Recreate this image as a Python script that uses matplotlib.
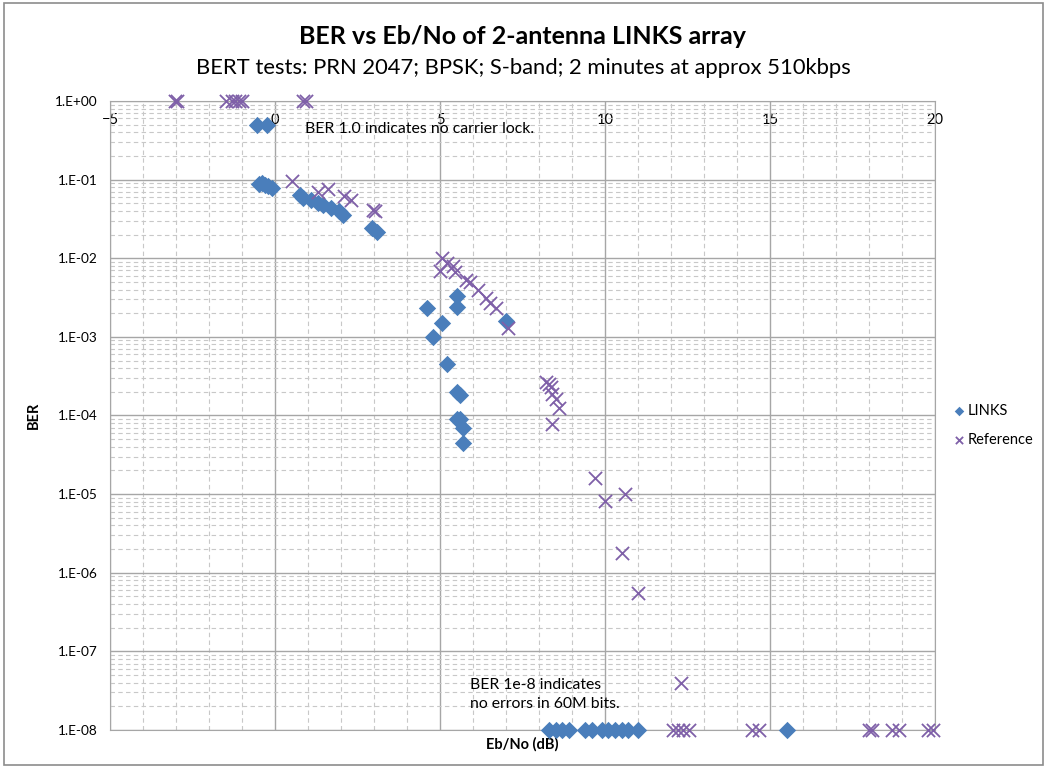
import matplotlib.pyplot as plt
from matplotlib.patches import Rectangle
from matplotlib.ticker import FixedLocator, FixedFormatter, MultipleLocator

plt.rcParams['font.family'] = ['Lato', 'DejaVu Sans']

# --- LINKS measurements (Eb/No dB, BER) ---
links_x = [-0.55, -0.24,
           -0.5, -0.4, -0.3, -0.2, -0.1,
           0.75, 0.85, 1.1, 1.3, 1.45, 1.7, 1.95, 2.05,
           2.95, 3.1,
           4.6, 4.8, 5.05, 5.2, 5.5, 5.5, 5.5, 5.6, 5.5, 5.6, 5.7, 5.7, 7.0,
           8.3, 8.5, 8.7, 8.9, 9.4, 9.6, 9.9, 10.1, 10.3, 10.5, 10.7, 11.0, 15.5]
links_ber = [0.5, 0.5,
             0.088, 0.090, 0.085, 0.082, 0.078,
             0.063, 0.058, 0.055, 0.051, 0.048, 0.044, 0.040, 0.036,
             0.024, 0.0215,
             0.0023, 0.001, 0.0015, 0.00045, 0.0033, 0.0024, 0.0002, 0.00018,
             0.00009, 0.00009, 0.00007, 0.000045, 0.0016,
             1e-8, 1e-8, 1e-8, 1e-8, 1e-8, 1e-8, 1e-8, 1e-8, 1e-8, 1e-8, 1e-8, 1e-8, 1e-8]

# --- Reference measurements ---
ref_x = [-3.02, -2.97, -1.5, -1.3, -1.2, -1.1, -1.0, 0.85, 0.95,
         0.5, 1.3, 1.6, 2.1, 2.3, 2.97, 3.02,
         5.05, 5.0, 5.2, 5.4, 5.45, 5.8, 5.9, 6.15, 6.4, 6.5, 6.7, 7.05,
         8.2, 8.3, 8.35, 8.4, 8.5, 8.6, 8.4,
         9.7, 10.0, 10.6, 10.5, 11.0, 12.3,
         12.05, 12.2, 12.35, 12.55, 14.45, 14.65, 18.0, 18.1, 18.7, 18.9, 19.8, 19.95]
ref_ber = [1, 1, 1, 1, 1, 1, 1, 1, 1,
           0.096, 0.069, 0.075, 0.061, 0.055, 0.041, 0.040,
           0.0100, 0.0069, 0.0086, 0.0079, 0.0067, 0.0053, 0.0050, 0.0040,
           0.0031, 0.0027, 0.0023, 0.0013,
           0.00027, 0.00025, 0.00023, 0.00019, 0.00016, 0.000125, 0.000078,
           1.6e-5, 8.2e-6, 1.0e-5, 1.8e-6, 5.5e-7, 4e-8,
           1e-8, 1e-8, 1e-8, 1e-8, 1e-8, 1e-8, 1e-8, 1e-8, 1e-8, 1e-8, 1e-8, 1e-8]

y_ticks = [1e0, 1e-1, 1e-2, 1e-3, 1e-4, 1e-5, 1e-6, 1e-7, 1e-8]
y_labels = ['1.E+00', '1.E-01', '1.E-02', '1.E-03', '1.E-04',
            '1.E-05', '1.E-06', '1.E-07', '1.E-08']

fig = plt.figure(figsize=(10.47, 7.68), dpi=100)
fig.patches.append(Rectangle((0.004, 0.004), 0.992, 0.992, transform=fig.transFigure,
                             fill=False, edgecolor='#8c8c8c', linewidth=1.2))
ax = fig.add_axes([0.1051, 0.0495, 0.788, 0.819])

ax.scatter(links_x, links_ber, marker='D', s=78, color='#4a7ebb', label='LINKS',
           zorder=3, linewidths=0, clip_on=False)
ax.scatter(ref_x, ref_ber, marker='x', s=90, color='#7f60a8', label='Reference',
           zorder=4, linewidths=1.3, clip_on=False)

ax.set_yscale('log')
ax.set_xlim(-5, 20)
ax.set_ylim(1e-8, 1)

ax.yaxis.set_major_locator(FixedLocator(y_ticks))
ax.yaxis.set_major_formatter(FixedFormatter(y_labels))
minor = [m * 10.0 ** e for e in range(-8, 0) for m in range(2, 10)]
ax.yaxis.set_minor_locator(FixedLocator(minor))
ax.yaxis.set_minor_formatter(FixedFormatter([]))
ax.xaxis.set_major_locator(MultipleLocator(5))
ax.xaxis.set_minor_locator(MultipleLocator(1))

ax.grid(True, which='major', color='#a6a6a6', linewidth=1.0)
ax.grid(True, which='minor', color='#c8c8c8', linestyle=(0, (4, 3)), linewidth=0.8)
ax.set_axisbelow(True)

for sp in ax.spines.values():
    sp.set_color('#a6a6a6')

# x tick labels sit just under the top line (axis crosses at BER = 1)
ax.xaxis.tick_top()
ax.tick_params(axis='x', which='both', length=0, pad=-19, labelsize=10.5)
ax.tick_params(axis='y', which='both', length=0, pad=9, labelsize=9.8)

ax.set_ylabel('BER', fontsize=10.5, fontweight='bold', labelpad=10)
ax.xaxis.set_label_position('bottom')
ax.set_xlabel('Eb/No (dB)', fontsize=10.5, fontweight='bold', labelpad=5)

ax.text(0.9, 10 ** -0.35, 'BER 1.0 indicates no carrier lock.', fontsize=11.4,
        va='center', ha='left')
ax.text(5.9, 10 ** -7.55, 'BER 1e-8 indicates\nno errors in 60M bits.', fontsize=11.3,
        va='center', ha='left', linespacing=1.45)

fig.text(0.4995, 0.952, 'BER vs Eb/No of 2-antenna LINKS array', fontsize=18,
         fontweight='bold', ha='center', va='center')
fig.text(0.4995, 0.911, 'BERT tests: PRN 2047; BPSK; S-band; 2 minutes at approx 510kbps',
         fontsize=15.8, ha='center', va='center')

fig.legend(loc='center left', bbox_to_anchor=(0.896, 0.446), frameon=False,
           fontsize=10.5, handletextpad=0.1, handlelength=1.0, labelspacing=1.0,
           markerscale=0.55)

fig.savefig('out.png', dpi=100)
